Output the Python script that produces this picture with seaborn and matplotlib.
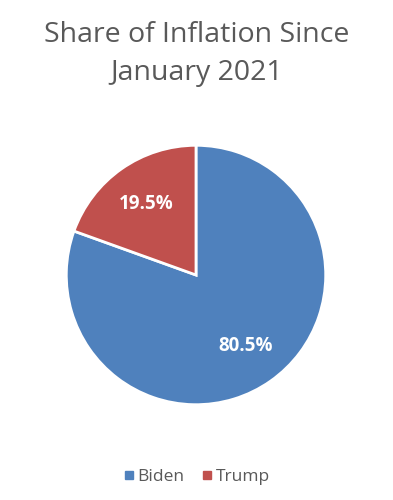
import matplotlib
matplotlib.use("Agg")
import matplotlib.pyplot as plt
import seaborn as sns
from matplotlib.lines import Line2D

sns.set_theme(style="white")
plt.rcParams['font.family'] = ['Open Sans', 'DejaVu Sans']

labels = ["Biden", "Trump"]
shares = [80.5, 19.5]
colors = ["#4F81BD", "#C0504D"]
title = "Share of Inflation Since\nJanuary 2021"

fig = plt.figure(figsize=(3.93, 5.0), dpi=100)
ax = fig.add_axes([(196 - 131) / 393, 1 - (275 + 131) / 500, 262 / 393, 262 / 500])

wedges, texts = ax.pie(
    shares, colors=colors, startangle=90, counterclock=False,
    labels=[f"{v:.1f}%" for v in shares], labeldistance=0.67,
    wedgeprops=dict(edgecolor="white", linewidth=2),
    textprops=dict(color="white", fontsize=13.5, fontweight="bold", ha="center", va="center"),
)
ax.set_xlim(-1.01, 1.01)
ax.set_ylim(-1.01, 1.01)
ax.set_aspect("equal")

fig.text(0.5, 1 - 54 / 500, title, ha="center", va="center", fontsize=20.5,
         color="#595959", linespacing=1.45)

handles = [Line2D([0], [0], marker="s", linestyle="", markersize=6,
                  markerfacecolor=c, markeredgecolor=c) for c in colors]
fig.legend(handles, labels, loc="center", bbox_to_anchor=(0.5, 1 - 477 / 500),
           ncol=2, frameon=False, fontsize=12.5, handletextpad=0.2, columnspacing=1.0,
           labelcolor="#595959", handlelength=0.6)

fig.savefig("out.png", dpi=100, facecolor="white")
